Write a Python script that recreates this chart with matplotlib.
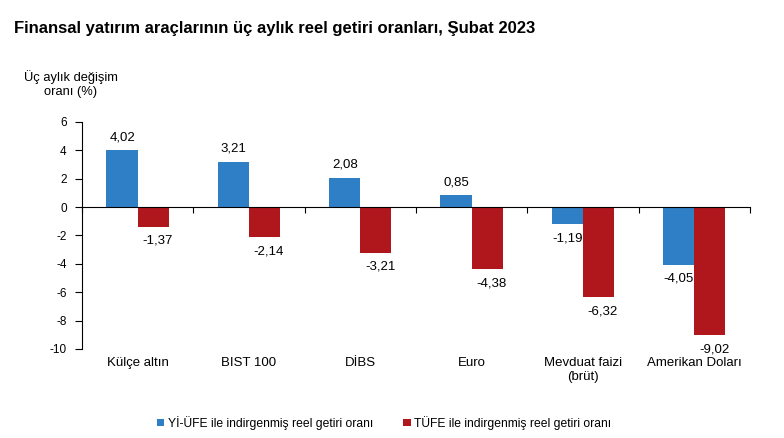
import numpy as np
import matplotlib.pyplot as plt
from matplotlib import transforms

plt.rcParams['font.family'] = ['Liberation Sans', 'DejaVu Sans']
plt.rcParams['axes.unicode_minus'] = False

# veriler
kategoriler = ['Külçe altın', 'BIST 100', 'DİBS', 'Euro', 'Mevduat faizi\n(brüt)', 'Amerikan Doları']
yi_ufe = [4.02, 3.21, 2.08, 0.85, -1.19, -4.05]
tufe = [-1.37, -2.14, -3.21, -4.38, -6.32, -9.02]
seri_adlari = ['Yİ-ÜFE ile indirgenmiş reel getiri oranı', 'TÜFE ile indirgenmiş reel getiri oranı']
yticks = [-10, -8, -6, -4, -2, 0, 2, 4, 6]

mavi = '#2F7FC6'
kirmizi = '#B0171D'

fig = plt.figure(figsize=(7.84, 4.38), dpi=100)
ax = fig.add_axes([0.1046, 0.2032, 0.852, 0.5183])

x = np.arange(len(kategoriler))
w = 0.28
b1 = ax.bar(x - w/2, yi_ufe, w, color=mavi, label=seri_adlari[0])
b2 = ax.bar(x + w/2, tufe, w, color=kirmizi, label=seri_adlari[1])

def etiket(v):
    return ('%.2f' % v).replace('.', ',')

for xi, v in zip(x - w/2, yi_ufe):
    ax.annotate(etiket(v), (xi, v), xytext=(0, 5 if v > 0 else -6),
                textcoords='offset points', ha='center',
                va='bottom' if v > 0 else 'top', fontsize=9.5)
for xi, v in zip(x + w/2, tufe):
    ax.annotate(etiket(v), (xi, v), xytext=(3, -6),
                textcoords='offset points', ha='center', va='top', fontsize=9.5)

ax.set_xlim(-0.5, len(kategoriler) - 0.5)
ax.set_ylim(-10, 6)
ax.set_yticks(yticks)
ax.set_yticklabels([str(t) for t in yticks], fontsize=8.5)
ax.tick_params(axis='y', direction='out', length=5, width=0.8, pad=6)

ax.spines['top'].set_visible(False)
ax.spines['right'].set_visible(False)
ax.spines['bottom'].set_position(('data', 0))
ax.spines['left'].set_linewidth(0.8)
ax.spines['bottom'].set_linewidth(0.8)
ax.set_xticks(np.arange(len(kategoriler) + 1) - 0.5)
ax.set_xticklabels([])
ax.tick_params(axis='x', direction='out', length=4, width=0.8)

trans = transforms.blended_transform_factory(ax.transData, ax.transAxes)
for xi, k in zip(x, kategoriler):
    ax.text(xi, -0.035, k, transform=trans, ha='center', va='top', fontsize=9.5,
            linespacing=1.25)

fig.text(0.018, 0.936, 'Finansal yatırım araçlarının üç aylık reel getiri oranları, Şubat 2023',
         fontsize=12, fontweight='bold', ha='left', va='center')
fig.text(0.09, 0.808, 'Üç aylık değişim\noranı (%)', fontsize=9.3, ha='center', va='center',
         linespacing=1.2)

fig.legend(handles=[b1, b2], loc='center', bbox_to_anchor=(0.49, 0.035), ncol=2,
           frameon=False, fontsize=8.7, handlelength=0.6, handleheight=0.6,
           handletextpad=0.3, columnspacing=2.5)

fig.savefig('out.png', dpi=100)
